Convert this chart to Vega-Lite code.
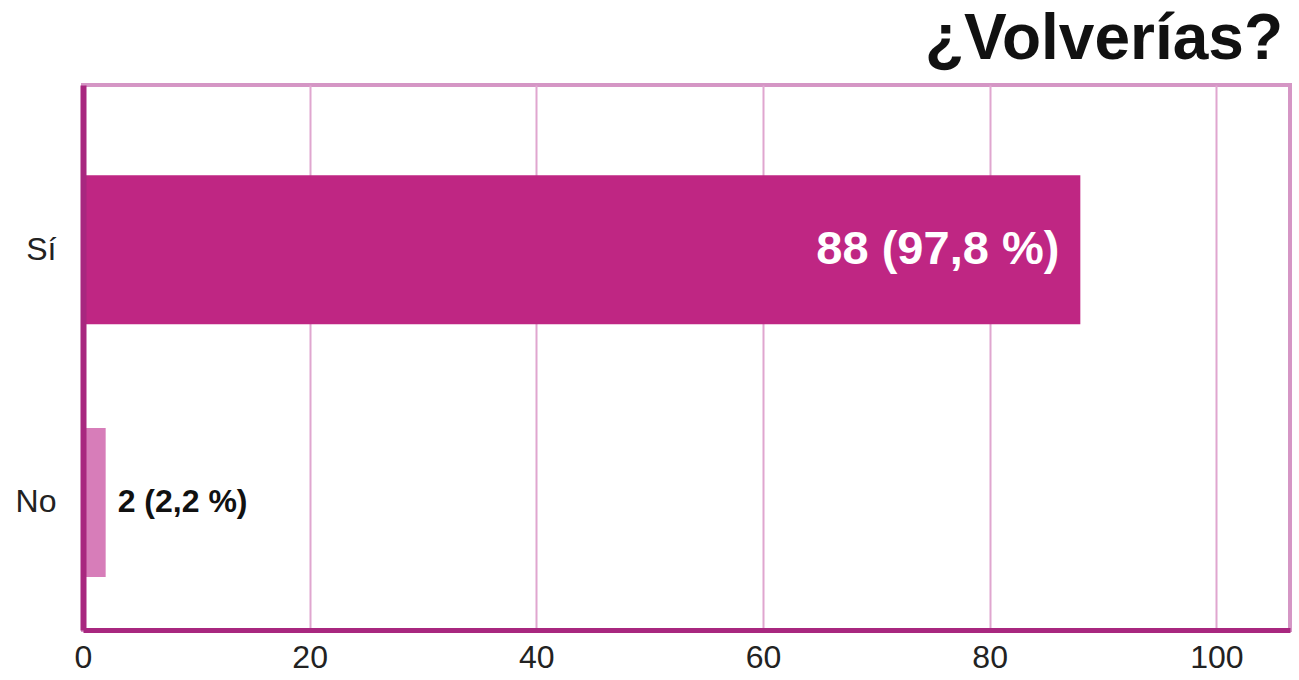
{
  "$schema": "https://vega.github.io/schema/vega-lite/v6.json",
  "width": 1207,
  "height": 545,
  "autosize": {"type": "none"},
  "padding": {"left": 83, "top": 85, "right": 9, "bottom": 50},
  "background": "white",
  "title": {
    "text": "¿Volverías?",
    "anchor": "end",
    "orient": "top",
    "font": "Liberation Sans",
    "fontSize": 64,
    "fontWeight": "bold",
    "color": "#111111",
    "offset": 13,
    "dx": -7
  },
  "config": {
    "view": {"stroke": "#D596C5", "strokeWidth": 4},
    "font": "Liberation Sans"
  },
  "data": {
    "values": [
      {"respuesta": "Sí", "n": 88, "etiqueta": "88 (97,8 %)"},
      {"respuesta": "No", "n": 2, "etiqueta": "2 (2,2 %)"}
    ]
  },
  "encoding": {
    "y": {
      "field": "respuesta",
      "type": "nominal",
      "sort": ["Sí", "No"],
      "scale": {"paddingInner": 0.41, "paddingOuter": 0.283, "align": 0.63},
      "axis": {
        "title": null,
        "domainColor": "#A8277F",
        "domainWidth": 6,
        "zindex": 1,
        "ticks": false,
        "labelPadding": 27,
        "labelFontSize": 32,
        "labelColor": "#222222",
        "labelFont": "Liberation Sans",
        "grid": false
      }
    },
    "x": {
      "field": "n",
      "type": "quantitative",
      "scale": {"domain": [0, 106.5], "nice": false},
      "axis": {
        "title": null,
        "values": [0, 20, 40, 60, 80, 100],
        "labelFlush": false,
        "domainColor": "#A8277F",
        "domainWidth": 5,
        "ticks": false,
        "labelPadding": 12,
        "labelFontSize": 32,
        "labelColor": "#222222",
        "labelFont": "Liberation Sans",
        "grid": true,
        "gridColor": "#E0A6CF",
        "gridWidth": 2,
        "gridOpacity": 1
      }
    }
  },
  "layer": [
    {
      "mark": {"type": "bar"},
      "encoding": {
        "color": {
          "field": "respuesta",
          "type": "nominal",
          "scale": {"domain": ["Sí", "No"], "range": ["#BF2683", "#D77DB9"]},
          "legend": null
        }
      }
    },
    {
      "transform": [{"filter": "datum.n > 50"}],
      "mark": {
        "type": "text",
        "align": "right",
        "baseline": "middle",
        "dx": -21,
        "fontSize": 47,
        "fontWeight": "bold",
        "color": "white",
        "font": "Liberation Sans"
      },
      "encoding": {"text": {"field": "etiqueta"}}
    },
    {
      "transform": [{"filter": "datum.n <= 50"}],
      "mark": {
        "type": "text",
        "align": "left",
        "baseline": "middle",
        "dx": 12,
        "fontSize": 32,
        "fontWeight": "bold",
        "color": "#111111",
        "font": "Liberation Sans"
      },
      "encoding": {"text": {"field": "etiqueta"}}
    }
  ]
}
